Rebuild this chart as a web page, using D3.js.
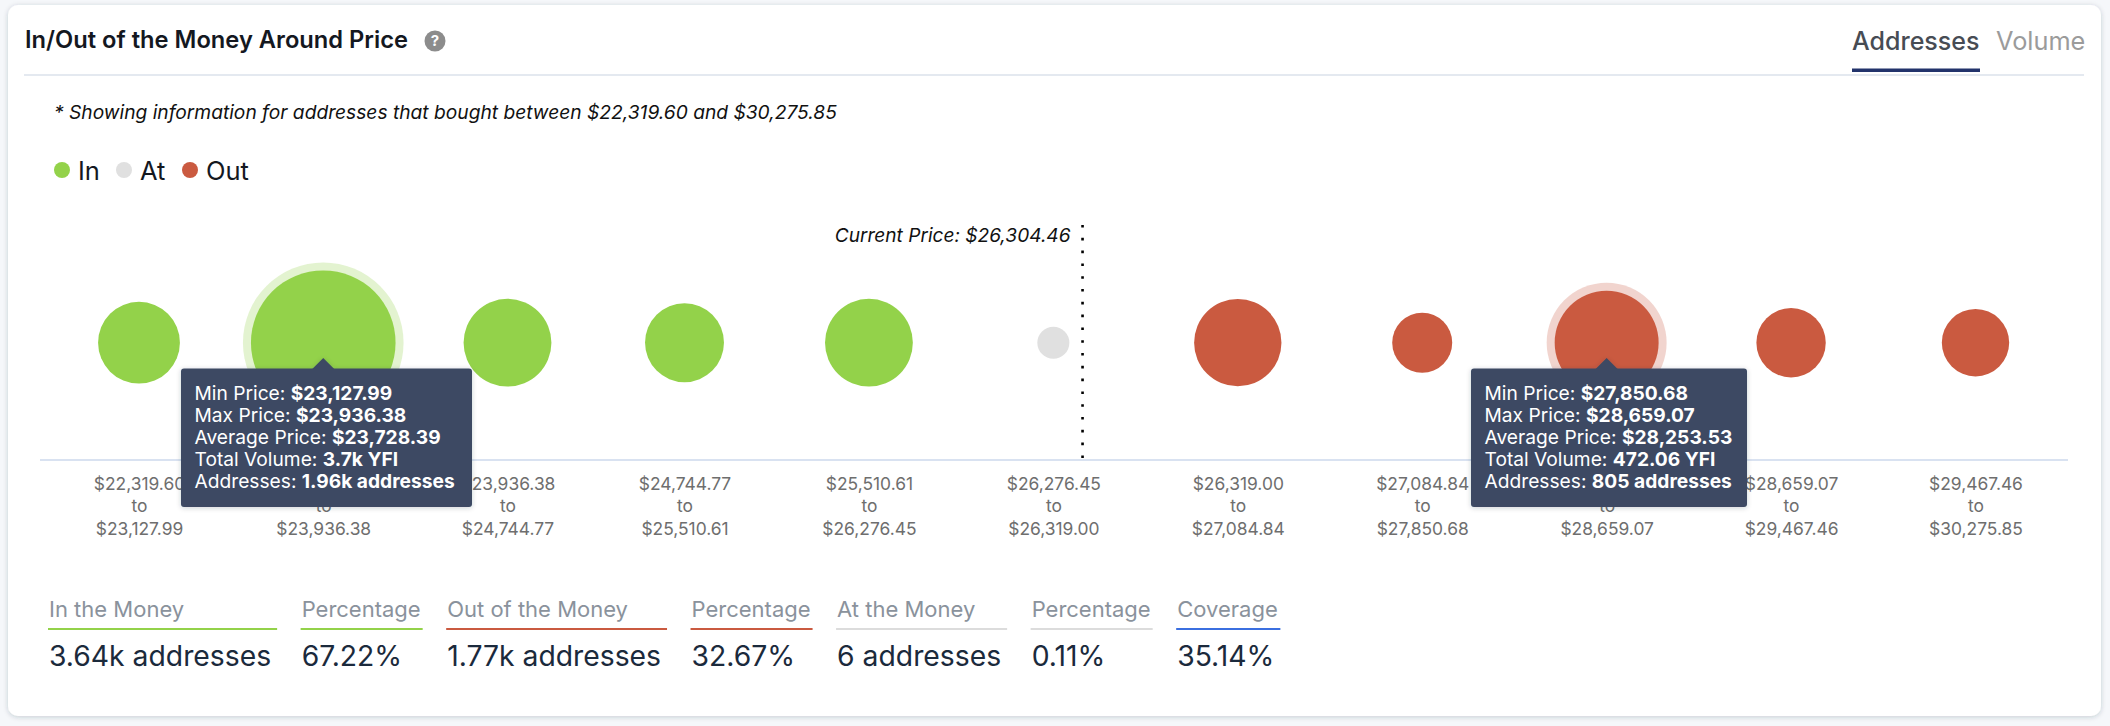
<!DOCTYPE html>
<html><head><meta charset="utf-8">
<style>
html,body{margin:0;padding:0;background:#f5f7fa;width:2110px;height:726px;overflow:hidden}
svg{display:block;font-family:Inter,"Noto Sans",sans-serif}
</style>
<script src="https://cdn.jsdelivr.net/npm/d3@7"></script>
</head><body>
<svg id="c" width="2110" height="726"></svg>
<script>
const binMin=[22319.60,23127.99,23936.38,24744.77,25510.61,26276.45,26319.00,27084.84,27850.68,28659.07,29467.46];
const binMax=[23127.99,23936.38,24744.77,25510.61,26276.45,26319.00,27084.84,27850.68,28659.07,29467.46,30275.85];
const addresses=[400,1960,495,358,495,6,487,144,805,237,215];
const status=["In","In","In","In","In","At","Out","Out","Out","Out","Out"];
const legendLabels=["In","At","Out"];
const statusColors=["#93d24a","#e0e0e0","#ca5a40"];
const currentPrice=26304.46;
const tooltipBins=[1,8];
const tooltipLabels=["Min Price: ","Max Price: ","Average Price: ","Total Volume: ","Addresses: "];
const tooltipValues=[
 ["$23,127.99","$23,936.38","$23,728.39","3.7k YFI","1.96k addresses"],
 ["$27,850.68","$28,659.07","$28,253.53","472.06 YFI","805 addresses"]];
const statLabels=["In the Money","Percentage","Out of the Money","Percentage","At the Money","Percentage","Coverage"];
const statValues=["3.64k addresses","67.22%","1.77k addresses","32.67%","6 addresses","0.11%","35.14%"];
const statColors=["#93d24a","#93d24a","#ca5a40","#ca5a40","#dcdcdc","#dcdcdc","#3b6fe0"];

const svg=d3.select("#c");
const defs=svg.append("defs");
const f=defs.append("filter").attr("id","sh").attr("x","-5%").attr("y","-5%").attr("width","110%").attr("height","110%");
f.append("feDropShadow").attr("dx",0).attr("dy",1).attr("stdDeviation",2.5).attr("flood-color","#1f2d3d").attr("flood-opacity",.22);

svg.append("rect").attr("x",8).attr("y",5).attr("width",2093).attr("height",711).attr("rx",10)
  .attr("fill","#fff").attr("filter","url(#sh)");

// header
svg.append("text").attr("x",25).attr("y",40).attr("dy",".35em").attr("font-size",23.7).attr("font-weight",600).attr("fill","#14181f").text("In/Out of the Money Around Price");
svg.append("circle").attr("cx",435).attr("cy",41).attr("r",10.5).attr("fill","#8c8c8c");
svg.append("text").attr("x",435).attr("y",41).attr("dy",".36em").attr("text-anchor","middle").attr("font-size",15).attr("font-weight",700).attr("fill","#fff").text("?");
svg.append("line").attr("x1",24).attr("x2",2084).attr("y1",75).attr("y2",75).attr("stroke","#e4e9f0").attr("stroke-width",2);
svg.append("text").attr("x",1852).attr("y",41).attr("dy",".35em").attr("font-size",25).attr("font-weight",500).attr("fill","#474c54").text("Addresses");
svg.append("text").attr("x",1996).attr("y",41).attr("dy",".35em").attr("font-size",25.3).attr("fill","#9b9b9b").text("Volume");
svg.append("rect").attr("x",1852).attr("y",68.5).attr("width",128).attr("height",3.5).attr("fill","#22336b");

svg.append("text").attr("x",54).attr("y",112).attr("dy",".35em").attr("font-size",19.2).attr("font-style","italic").attr("fill","#111").text("* Showing information for addresses that bought between $22,319.60 and $30,275.85");

// legend
const legX=[62,124,190];
legendLabels.forEach((l,i)=>{
  svg.append("circle").attr("cx",legX[i]).attr("cy",170).attr("r",8).attr("fill",statusColors[i]);
  svg.append("text").attr("x",legX[i]+16).attr("y",171).attr("dy",".35em").attr("font-size",25.5).attr("fill","#14181f").text(l);
});

// scales
const idx=d3.range(binMin.length);
const x=d3.scaleLinear().domain([0,2,3,10]).range([139,507.5,684.5,1975.5]);
const r=d3.scalePow().exponent(.46).domain([6,1960]).range([16,72.3]);
const color=d3.scaleOrdinal().domain(legendLabels).range(statusColors);
const cy=342.7, axisY=460;

// axis
svg.append("line").attr("x1",40).attr("x2",2068).attr("y1",axisY).attr("y2",axisY).attr("stroke","#d9e2f1").attr("stroke-width",2);
const ax=svg.append("g").attr("transform",`translate(0,${axisY})`)
  .call(d3.axisBottom(x).tickValues(idx).tickSize(0).tickFormat(""));
ax.select(".domain").remove();
const fmt=d3.format("$,.2f");
ax.selectAll(".tick text").each(function(i){
  const t=d3.select(this).attr("y",0).attr("dy",null).attr("font-size",17.4).attr("font-family","Inter").attr("fill","#6e6e6e");
  [fmt(binMin[i]),"to",fmt(binMax[i])].forEach((s,k)=>{
    t.append("tspan").attr("x",0).attr("y",29.5+22.5*k).text(s);
  });
});

// bubbles
svg.selectAll("circle.halo").data(tooltipBins).join("circle").attr("class","halo")
  .attr("cx",d=>x(d)).attr("cy",cy).attr("r",d=>r(addresses[d])+8)
  .attr("fill",d=>color(status[d])).attr("opacity",.26);
svg.selectAll("circle.b").data(idx).join("circle").attr("class","b")
  .attr("cx",d=>x(d)).attr("cy",cy).attr("r",d=>r(addresses[d])).attr("fill",d=>color(status[d]));

// current price
const bi=binMin.findIndex((m,i)=>currentPrice>=m&&currentPrice<binMax[i]);
const cx=x(bi-.5+(currentPrice-binMin[bi])/(binMax[bi]-binMin[bi]));
svg.append("line").attr("x1",cx).attr("x2",cx).attr("y1",225).attr("y2",axisY)
  .attr("stroke","#000").attr("stroke-width",2.6).attr("stroke-dasharray","2.6 10.2");
svg.append("text").attr("x",cx-12).attr("y",235).attr("dy",".35em").attr("text-anchor","end").attr("font-size",19.1).attr("font-style","italic").attr("fill","#111").text("Current Price: "+d3.format("$,.2f")(currentPrice));

// tooltips
const tipBox=[[181,291],[1471,276]];
tooltipBins.forEach((b,ti)=>{
  const g=svg.append("g").attr("filter","url(#sh)");
  const px=x(b);
  g.append("path").attr("d",`M${px-11},369 L${px},358 L${px+11},369 Z`).attr("fill","#3c4a64");
  g.append("rect").attr("x",tipBox[ti][0]).attr("y",368.5).attr("width",tipBox[ti][1]).attr("height",138.5).attr("rx",3).attr("fill","#3c4a64");
  tooltipLabels.forEach((l,k)=>{
    const t=svg.append("text").attr("x",tipBox[ti][0]+13.5).attr("y",393+22*k).attr("dy",".35em").attr("font-size",19.2).attr("fill","#fff");
    t.append("tspan").text(l);
    t.append("tspan").attr("font-weight",700).text(tooltipValues[ti][k]);
  });
});

// stats
let sx=48;
statLabels.forEach((l,i)=>{
  const a=svg.append("text").attr("x",sx+1).attr("y",609).attr("dy",".35em").attr("font-size",22).attr("fill","#8a929c").text(l);
  const b=svg.append("text").attr("x",sx+1).attr("y",656).attr("dy",".35em").attr("font-size",28.3).attr("fill","#1b2a3c").text(statValues[i]);
  const w=Math.max(a.node().getComputedTextLength()+3,b.node().getComputedTextLength()+7);
  svg.append("line").attr("x1",sx).attr("x2",sx+w).attr("y1",629).attr("y2",629).attr("stroke",statColors[i]).attr("stroke-width",2);
  sx+=w+23.5;
});
</script>
</body></html>
